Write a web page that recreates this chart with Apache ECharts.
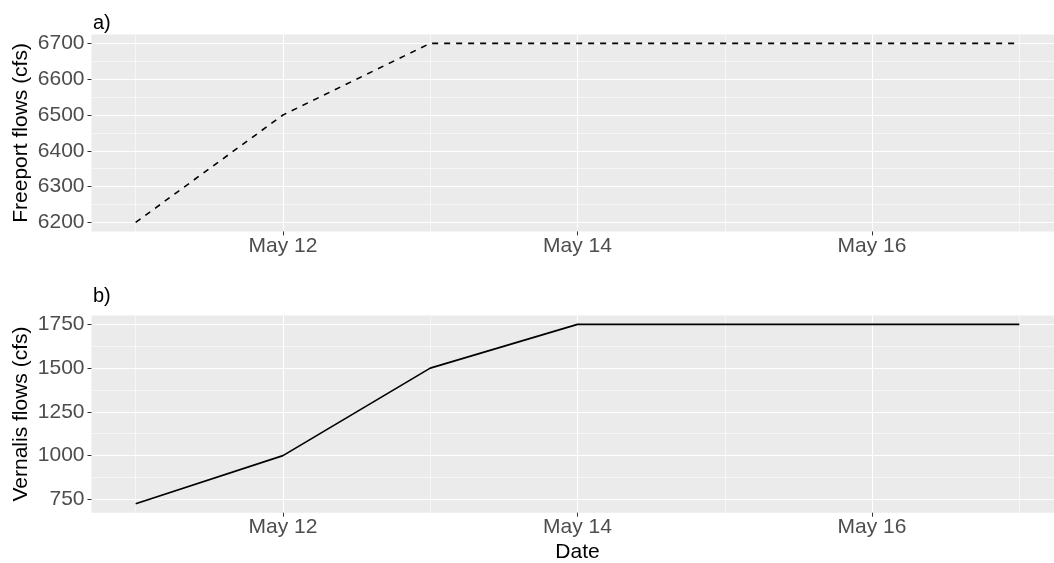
<!DOCTYPE html>
<html>
<head>
<meta charset="utf-8">
<script src="https://cdn.jsdelivr.net/npm/echarts@6/dist/echarts.min.js"></script>
<style>
  html, body { margin: 0; padding: 0; background: #fff; }
  #chart { width: 1054px; height: 563px; }
</style>
</head>
<body>
<div id="chart"></div>
<script>
// day of month (May)
const days = [11, 12, 13, 14, 15, 16, 17]
const freeportFlows = [6200, 6500, 6700, 6700, 6700, 6700, 6700]
const vernalisFlows = [725, 1000, 1500, 1750, 1750, 1750, 1750]

// breaks
const dayBreaks = [12, 14, 16]
const dayMinorBreaks = [11, 13, 15, 17]
const freeportBreaks = [6200, 6300, 6400, 6500, 6600, 6700]
const freeportMinorBreaks = [6250, 6350, 6450, 6550, 6650]
const vernalisBreaks = [750, 1000, 1250, 1500, 1750]
const vernalisMinorBreaks = [875, 1125, 1375, 1625]

const font = "'Liberation Sans', Arial, sans-serif"
const xMin = 10.7
const xMax = 17.3

function majorX(gridIndex, showName) {
  return {
    type: 'value', gridIndex, min: xMin, max: xMax, position: 'bottom',
    name: showName ? 'Date' : '',
    nameLocation: 'middle', nameGap: 29, nameMoveOverlap: false,
    nameTextStyle: { color: '#000', fontSize: 21, fontFamily: font },
    axisLine: { show: false },
    axisTick: { show: true, length: 4, lineStyle: { color: '#333', width: 1 }, customValues: dayBreaks },
    axisLabel: { color: '#4D4D4D', fontSize: 21, fontFamily: font, margin: 4, customValues: dayBreaks, formatter: v => 'May ' + v },
    splitLine: { show: true, lineStyle: { color: '#fff', width: 1.1 } }
  }
}

function minorX(gridIndex) {
  return {
    type: 'value', gridIndex, min: xMin, max: xMax, position: 'bottom',
    axisLine: { show: false },
    axisTick: { show: false, customValues: dayMinorBreaks },
    axisLabel: { show: false, customValues: dayMinorBreaks },
    splitLine: { show: true, lineStyle: { color: '#fff', width: 0.55 } }
  }
}

function majorY(gridIndex, name, min, max, breaks) {
  return {
    type: 'value', gridIndex, min, max, position: 'left',
    name, nameLocation: 'middle', nameGap: 60, nameMoveOverlap: false,
    nameTextStyle: { color: '#000', fontSize: 21, fontFamily: font },
    axisLine: { show: false },
    axisTick: { show: true, length: 4, lineStyle: { color: '#333', width: 1 }, customValues: breaks },
    axisLabel: { color: '#4D4D4D', fontSize: 21, fontFamily: font, margin: 7, customValues: breaks, formatter: v => String(v) },
    splitLine: { show: true, lineStyle: { color: '#fff', width: 1.1 } }
  }
}

function minorY(gridIndex, min, max, breaks) {
  return {
    type: 'value', gridIndex, min, max, position: 'left',
    axisLine: { show: false },
    axisTick: { show: false, customValues: breaks },
    axisLabel: { show: false, customValues: breaks },
    splitLine: { show: true, lineStyle: { color: '#fff', width: 0.55 } }
  }
}

const chart = echarts.init(document.getElementById('chart'))

const option = {
  animation: false,
  backgroundColor: '#fff',
  title: [
    { text: 'a)', left: 88, top: 8, textStyle: { fontSize: 20, fontWeight: 'normal', color: '#000', fontFamily: font } },
    { text: 'b)', left: 88, top: 281, textStyle: { fontSize: 20, fontWeight: 'normal', color: '#000', fontFamily: font } }
  ],
  grid: [
    { left: 91.5, top: 34.4, width: 972, height: 197, show: true, backgroundColor: '#EBEBEB', borderWidth: 0, containLabel: false, outerBoundsMode: 'none' },
    { left: 91.5, top: 315.4, width: 972, height: 197.3, show: true, backgroundColor: '#EBEBEB', borderWidth: 0, containLabel: false, outerBoundsMode: 'none' }
  ],
  xAxis: [
    minorX(0),
    majorX(0, false),
    minorX(1),
    majorX(1, true)
  ],
  yAxis: [
    minorY(0, 6175, 6725, freeportMinorBreaks),
    majorY(0, 'Freeport flows (cfs)', 6175, 6725, freeportBreaks),
    minorY(1, 673.75, 1801.25, vernalisMinorBreaks),
    majorY(1, 'Vernalis flows (cfs)', 673.75, 1801.25, vernalisBreaks)
  ],
  series: [
    {
      type: 'line', xAxisIndex: 1, yAxisIndex: 1,
      data: days.map((d, i) => [d, freeportFlows[i]]),
      symbol: 'none',
      lineStyle: { color: '#000', width: 1.6, type: [6, 6] }
    },
    {
      type: 'line', xAxisIndex: 3, yAxisIndex: 3,
      data: days.map((d, i) => [d, vernalisFlows[i]]),
      symbol: 'none',
      lineStyle: { color: '#000', width: 1.7 }
    }
  ]
}

chart.setOption(option)
</script>
</body>
</html>
